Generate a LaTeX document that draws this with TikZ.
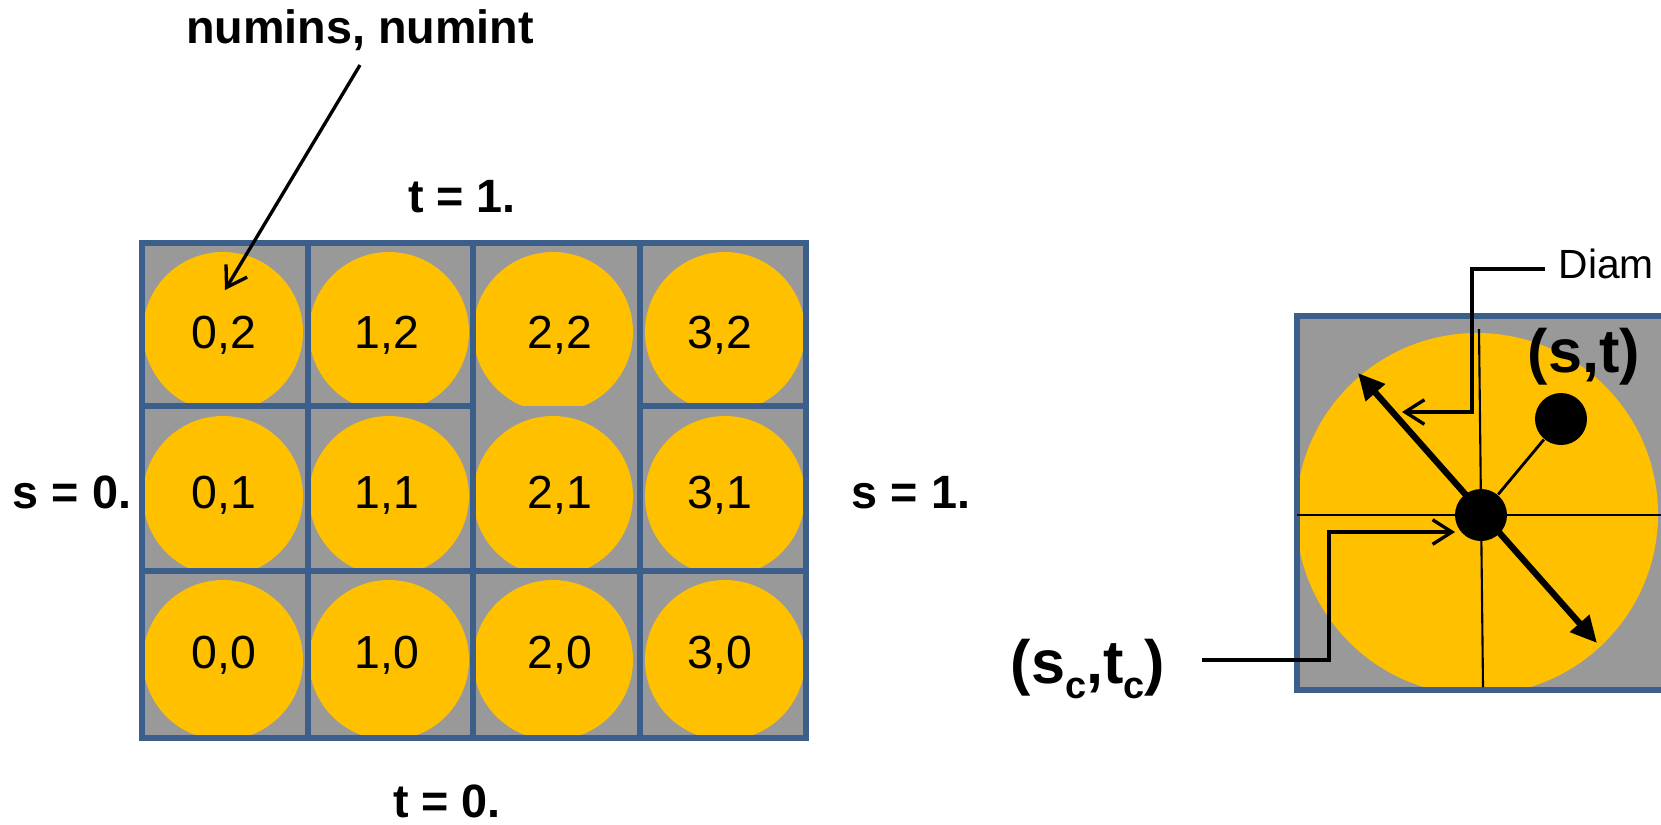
\documentclass[tikz,border=0pt]{standalone}
\usepackage{fontspec}
\setmainfont{Liberation Sans}
\usetikzlibrary{arrows.meta}
\definecolor{cellgrey}{HTML}{999999}
\definecolor{discorange}{HTML}{FFC000}
\definecolor{cellblue}{HTML}{3B5E8B}
\tikzset{
  cellline/.style={draw=cellblue,line width=1.5pt},
  lbl/.style={font=\fontsize{13.2}{15}\selectfont,inner sep=0pt,anchor=base},
  bl/.style={font=\bfseries\fontsize{13.3}{15}\selectfont,inner sep=0pt,anchor=base},
  big/.style={font=\bfseries\fontsize{17.4}{20}\selectfont,inner sep=0pt,anchor=base},
  openarrow/.style={line width=0.95pt,-{Straight Barb[length=5.5pt,width=7pt,line width=0.95pt]}},
  thinline/.style={line width=0.6pt},
  dot/.style={circle,fill=black,inner sep=0pt,minimum size=5.2mm},
  diamarrow/.style={line width=1.8pt,{Triangle[length=7.5pt,width=7pt]}-{Triangle[length=7.5pt,width=7pt]}}
}
\begin{document}
\begin{tikzpicture}[x=0.1mm,y=-0.1mm]
\useasboundingbox (0,0) rectangle (1661,824);
% grid cells
\foreach \i/\xa/\xb/\cx/\lx in {0/142/308/223/224, 1/308/473/389/387, 2/473/640/553/560, 3/640/806/725/720}{
  \foreach \r/\ya/\yb/\cy/\ly in {2/243/406/332/348, 1/406/571/496/508, 0/571/738/660/668}{
    \fill[cellgrey] (\xa,\ya) rectangle (\xb,\yb);
    \begin{scope}
      \clip (\xa,\ya) rectangle (\xb,\yb);
      \fill[discorange] (\cx,\cy) circle (80);
    \end{scope}
    \node[lbl] (n\i\r) at (\lx,\ly) {\i,\r};
  }
}
\draw[cellline] (142,243) rectangle (806,738);
\foreach \x in {308,473,640} \draw[cellline] (\x,243) -- (\x,738);
\draw[cellline] (142,406) -- (473,406) (640,406) -- (806,406);
\draw[cellline] (142,571) -- (806,571);
% labels
\node[bl] (nm) at (360,43) {numins, numint};
\node[bl] (t1) at (462,212) {t = 1.};
\node[bl] (t0) at (447,817) {t = 0.};
\node[bl] (s0) at (72,508) {s = 0.};
\node[bl] (s1) at (911,508) {s = 1.};
\coordinate (nmfoot) at (360,65);
\coordinate (nmtip) at (225,290);
\draw[openarrow] (nmfoot) -- (nmtip);
% right diagram
\begin{scope}
  \clip (1297,316) rectangle (1720,690);
  \fill[cellgrey] (1297,316) rectangle (1720,690);
  \fill[discorange] (1477,514) circle (181);
\end{scope}
\draw[cellline] (1297,316) rectangle (1720,690);
\coordinate (hl) at (1297,515);
\coordinate (hr) at (1720,515);
\coordinate (vt) at (1479,329);
\coordinate (vb) at (1483,687);
\draw[thinline] (hl) -- (hr);
\draw[thinline] (vt) -- (vb);
\node[dot] (ctr) at (1481,515) {};
\node[dot] (pt) at (1561,419) {};
\draw[line width=0.8pt] (ctr) -- (pt);
\coordinate (da) at (1358,373);
\coordinate (db) at (1597,643);
\draw[diamarrow] (da) -- (db);
\node[big] (st) at (1584,372) {(s,t)};
\node[font=\fontsize{11.6}{13}\selectfont,inner sep=0pt,anchor=base west] (diam) at (1558,278) {Diam};
\coordinate (dl0) at (1545,269);
\coordinate (dl1) at (1472,269);
\coordinate (dl2) at (1472,412);
\coordinate (dl3) at (1402,412);
\draw[openarrow] (dl0) -- (dl1) -- (dl2) -- (dl3);
\node[big] (sc) at (1088,683) {(s\raisebox{-4.3pt}{\fontsize{10.8}{11}\selectfont c},t\raisebox{-4.3pt}{\fontsize{10.8}{11}\selectfont c})};
\coordinate (sl0) at (1202,660);
\coordinate (sl1) at (1329,660);
\coordinate (sl2) at (1329,532);
\coordinate (sl3) at (1455,532);
\draw[openarrow] (sl0) -- (sl1) -- (sl2) -- (sl3);
\end{tikzpicture}
\end{document}
